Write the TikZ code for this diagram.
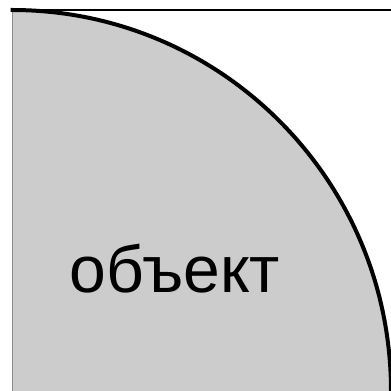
\documentclass[tikz,border=0pt]{standalone}
\usepackage{fontspec}
\setmainfont{Liberation Sans}
\begin{document}
\begin{tikzpicture}[x=1pt,y=1pt,
  arcline/.style={line width=4pt},
  topline/.style={line width=2pt},
  label/.style={font=\fontsize{66}{78}\selectfont, anchor=base, inner sep=0pt}]
\useasboundingbox (0,0) rectangle (391,391);
\clip (0,0) rectangle (391,391);
\fill[black!20] (12,0) -- (12,381) arc[start angle=90, end angle=0, x radius=379, y radius=381] -- cycle;
\draw[black!45, line width=0.8pt] (12.4,381) -- (12.4,0);
\draw[topline] (12,381) -- (391,381);
\draw[arcline] (10.5,381) -- (12,381) arc[start angle=90, end angle=0, x radius=379, y radius=381];
\node[label] (obj) at (175,98) {объект};
\end{tikzpicture}
\end{document}
